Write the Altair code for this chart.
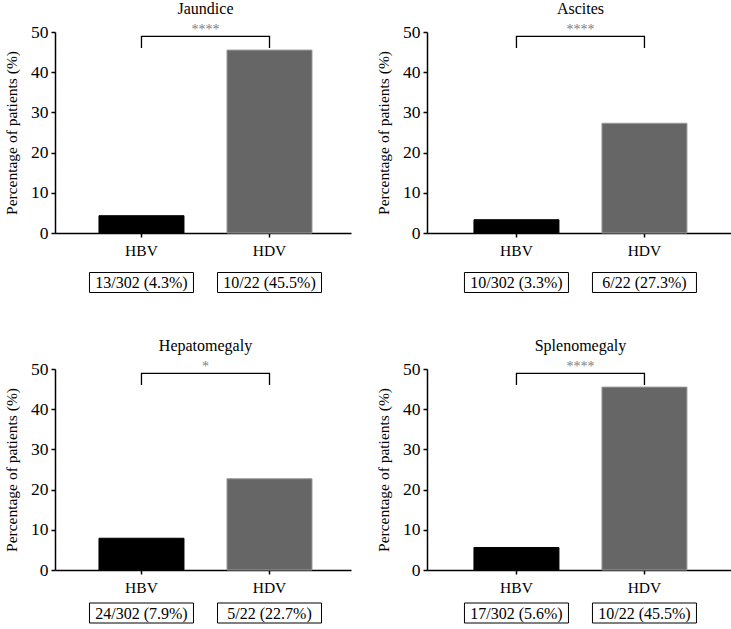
import altair as alt
import pandas as pd

# Clinical findings compared between HBV mono-infection and HDV co-infection
conditions = ["Jaundice", "Ascites", "Hepatomegaly", "Splenomegaly"]
significance = ["****", "****", "*", "****"]
groups = ["HBV", "HDV"]
hbv_counts = [13, 10, 24, 17]
hbv_total = 302
hdv_counts = [10, 6, 5, 10]
hdv_total = 22
hbv_pct = [4.3, 3.3, 7.9, 5.6]
hdv_pct = [45.5, 27.3, 22.7, 45.5]

FONT = "Liberation Serif"
PLOT_H = 201
BOX_W, BOX_H = 104, 20
# rectangle symbol: x spans [-1, 1] -> BOX_W pixels once size = BOX_W ** 2
BOX_SHAPE = "M-1,-{h}L1,-{h}L1,{h}L-1,{h}Z".format(h=round(BOX_H / BOX_W, 4))


def panel(i, width, pad_outer, align, box_gap):
    labels = [
        f"{hbv_counts[i]}/{hbv_total} ({hbv_pct[i]}%)",
        f"{hdv_counts[i]}/{hdv_total} ({hdv_pct[i]}%)",
    ]
    df = pd.DataFrame({"group": groups, "pct": [hbv_pct[i], hdv_pct[i]], "label": labels})
    head = pd.DataFrame({"group": ["HBV"], "title": [conditions[i]], "stars": [significance[i]]})
    bracket = pd.DataFrame({
        "group": ["HBV", "HBV", "HDV", "HDV"],
        "pct": [46.0, 48.9, 48.9, 46.0],
        "order": [0, 1, 2, 3],
    })

    xscale = alt.Scale(domain=groups, paddingInner=0.336, paddingOuter=pad_outer, align=align)
    x = alt.X("group:N", scale=xscale, sort=groups, title=None)
    y = alt.Y("pct:Q", scale=alt.Scale(domain=[0, 50]), title="Percentage of patients (%)")
    step = width / (2 - 0.336 + 2 * pad_outer)

    bars = alt.Chart(df).mark_bar(strokeWidth=1).encode(
        x=x,
        y=y,
        color=alt.Color("group:N", scale=alt.Scale(domain=groups, range=["#000000", "#666666"]), legend=None),
        stroke=alt.Stroke("group:N", scale=alt.Scale(domain=groups, range=["#000000", "#9a9a9a"]), legend=None),
    )
    brk = alt.Chart(bracket).mark_line(color="#000000", strokeWidth=1.3).encode(
        x=x, y=y, order="order:Q"
    )
    stars = alt.Chart(head).mark_text(
        font=FONT, fontSize=14, color="#808080", baseline="middle", dx=step / 2
    ).encode(x=x, y=alt.value(-2), text="stars:N")
    title = alt.Chart(head).mark_text(
        font=FONT, fontSize=16, color="#000000", baseline="middle", dx=step / 2
    ).encode(x=x, y=alt.value(-23), text="title:N")
    boxes = alt.Chart(df).mark_point(
        shape=BOX_SHAPE, size=BOX_W ** 2, filled=True, fill="#ffffff",
        stroke="#000000", strokeWidth=1, opacity=1,
    ).encode(x=x, y=alt.value(PLOT_H + box_gap))
    box_text = alt.Chart(df).mark_text(
        font=FONT, fontSize=16, color="#000000", baseline="middle"
    ).encode(x=x, y=alt.value(PLOT_H + box_gap + 0.5), text="label:N")

    return alt.layer(bars, brk, stars, title, boxes, box_text).properties(
        width=width, height=PLOT_H
    )


top = alt.hconcat(
    panel(0, 296, 0.324, 0.53, 49.5), panel(1, 304, 0.3555, 0.516, 49.5), spacing=25
)
bottom = alt.hconcat(
    panel(2, 296, 0.324, 0.53, 43), panel(3, 304, 0.3555, 0.516, 43), spacing=25
)

chart = alt.vconcat(top, bottom, spacing=43).properties(
    padding={"left": 4, "top": 1, "right": 0, "bottom": 0}
).configure_view(stroke=None).configure_axis(
    grid=False,
    domainColor="#000000",
    domainWidth=1.5,
    tickColor="#000000",
    tickWidth=1.5,
    tickSize=4,
    labelFont=FONT,
    titleFont=FONT,
    labelColor="#000000",
    titleColor="#000000",
    titleFontWeight="normal",
).configure_axisY(
    values=[0, 10, 20, 30, 40, 50],
    labelFontSize=17.5,
    labelPadding=3,
    titleFontSize=15.5,
    titlePadding=11,
).configure_axisX(
    labelFontSize=15.5,
    labelAngle=0,
    labelPadding=6,
)

chart.save("out.html", embed_options={"renderer": "svg", "actions": False})
